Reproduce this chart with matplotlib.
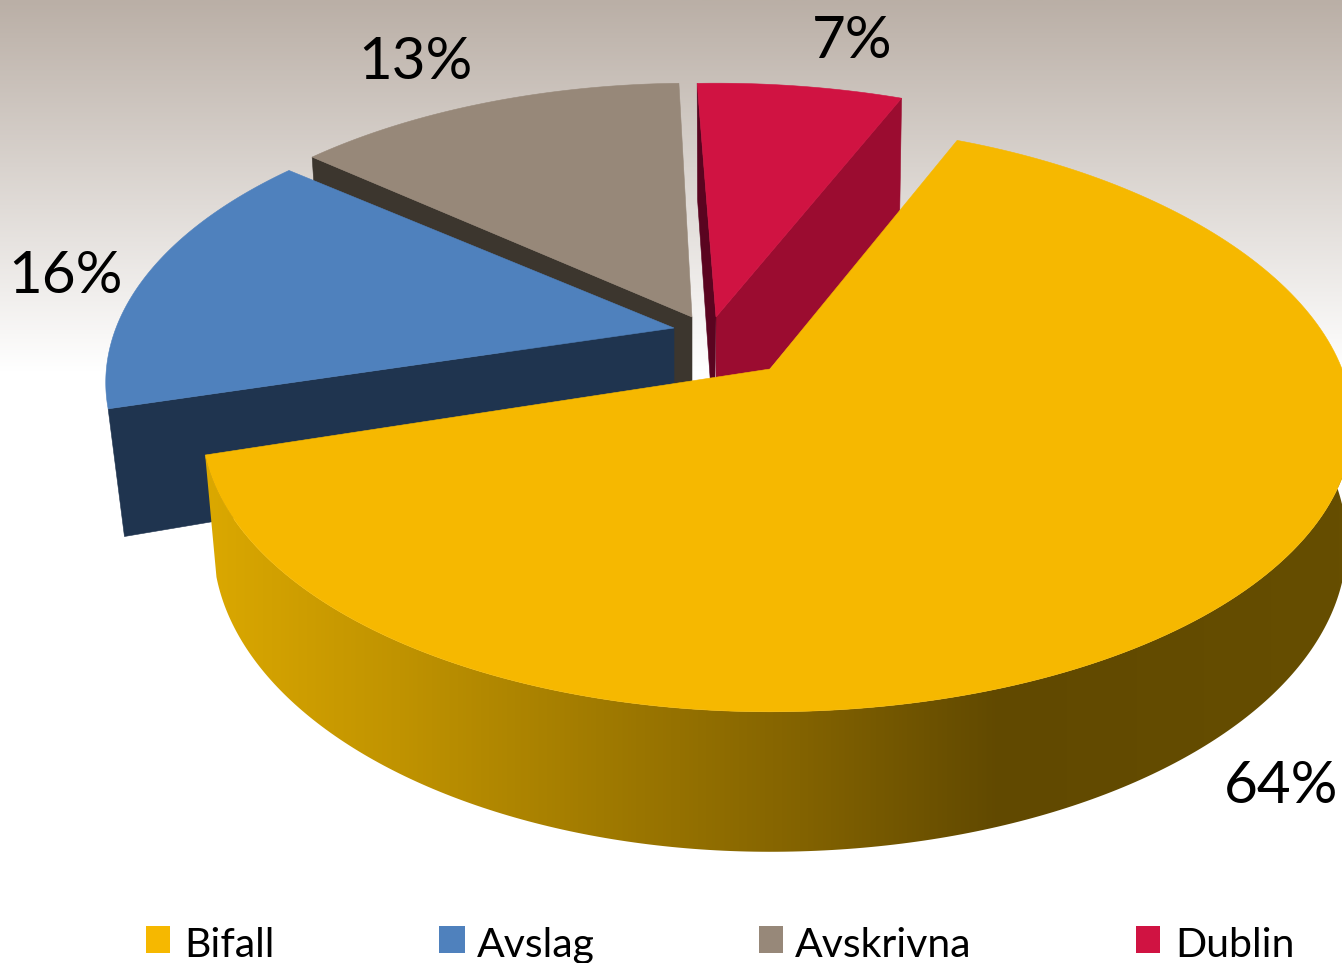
import numpy as np
import matplotlib
matplotlib.use("Agg")
import matplotlib.pyplot as plt
from matplotlib.colors import LinearSegmentedColormap
from matplotlib.patches import Polygon, Rectangle

# --- Data ---
categories = ["Bifall", "Avslag", "Avskrivna", "Dublin"]
shares = [64, 16, 13, 7]
pct_labels = ["64%", "16%", "13%", "7%"]

# --- Style / layout (pixels) ---
top_colors = ["#f6b800", "#4f81bd", "#978879", "#d01342"]
wall_colors = ["#664e00", "#1f344f", "#3c362e", "#9b0c30"]
apexes = [(770, 369), (674, 328), (692, 317), (716, 317)]
back_stretch = [0.05, 0, 0, 0]
# small angle corrections per slice (start, end), the original is drawn in perspective
slice_trim = [(0, 0), (1.0, -1.2), (-0.4, 1.0), (0.3, -0.2)]
label_pos = [(1281, 803), (66, 293), (415, 79), (852, 58)]
legend_box_x = [(146, 170), (439, 465), (759, 783), (1136, 1160)]
legend_text_x = [184, 477, 795, 1175]
first_angle = 22.6
font_name = "Lato"

W, H = 1342, 963
k = 0.189
ry = 278
rx_left, rx_right = 558, 572
depth = 116


# --- 3D look: project an angle on the disc to picture offsets ---
def top_offset(theta, stretch=0):
    t = np.radians(theta)
    u, v = np.sin(t), np.cos(t)
    w = 1 + k * v
    rx = np.where(u < 0, rx_left, rx_right)
    return rx * u / w, -ry * v / w * (1 + stretch * np.maximum(v, 0))


def top_edge(apex, theta, stretch=0):
    dx, dy = top_offset(theta, stretch)
    return apex[0] + dx, apex[1] + dy


def bottom_edge(apex, theta):
    dx, dy = top_offset(theta)
    sx = np.where(dx < 0, 0.98, 0.99)
    sy = np.where(dy > 0, 1.07, 1.0)
    return apex[0] + dx * sx, apex[1] + dy * sy + depth


def draw_top(ax, apex, a0, a1, color, z, stretch=0):
    th = np.linspace(a0, a1, 200)
    x, y = top_edge(apex, th, stretch)
    pts = np.column_stack([np.r_[apex[0], x], np.r_[apex[1], y]])
    ax.add_patch(Polygon(pts, closed=True, fc=color, ec=color, lw=0.4, zorder=z))


def draw_face(ax, apex, theta, color, z, apex_shift=0, outer_shift=(0, 0)):
    ox, oy = top_edge(apex, theta)
    bx, by = bottom_edge(apex, theta)
    pts = [(ox, oy), apex, (apex[0] + apex_shift, apex[1] + depth),
           (bx + outer_shift[0], by + outer_shift[1])]
    ax.add_patch(Polygon(pts, closed=True, fc=color, ec=color, lw=0.4, zorder=z))


fig = plt.figure(figsize=(W / 100, H / 100), dpi=100)
ax = fig.add_axes([0, 0, 1, 1])
ax.axis("off")

# background fade at the top of the picture
bg_cmap = LinearSegmentedColormap.from_list("bg", ["#baafa6", "#ffffff"])
ax.imshow(np.linspace(0, 1, 256).reshape(-1, 1), cmap=bg_cmap, aspect="auto",
          extent=(0, W, 372, 0), zorder=0)

# slice angles come from the shares, clockwise from the top
edges = first_angle + np.cumsum([0] + shares) * 3.6
a_bifall, a_avslag, a_avskr, a_dublin = [
    (edges[i] + slice_trim[i][0], edges[i + 1] + slice_trim[i][1]) for i in range(4)]

# Avskrivna, at the back
draw_face(ax, apexes[2], a_avskr[0], wall_colors[2], 2)
draw_top(ax, apexes[2], a_avskr[0], a_avskr[1], top_colors[2], 3)

# Avslag
draw_face(ax, apexes[1], a_avslag[0], wall_colors[1], 4, outer_shift=(5, 6))
draw_top(ax, apexes[1], a_avslag[0], a_avslag[1], top_colors[1], 5)

# Dublin, two cut faces are visible
draw_face(ax, apexes[3], a_dublin[1], wall_colors[3], 6)
draw_face(ax, apexes[3], a_dublin[0], "#5a0420", 6, apex_shift=-2)
draw_top(ax, apexes[3], a_dublin[0], a_dublin[1], top_colors[3], 7)

# Bifall rim with the shaded gradient
rim_th = np.linspace(a_bifall[1], 60, 300)
tx, ty = top_edge(apexes[0], rim_th)
bx, by = bottom_edge(apexes[0], rim_th)
rim = Polygon(np.column_stack([np.r_[tx, bx[::-1]], np.r_[ty, by[::-1]]]),
              closed=True, fc="none", ec="none", transform=ax.transData)
ax.add_patch(rim)
rim_cmap = LinearSegmentedColormap.from_list(
    "rim", [(0.0, "#dba800"), (0.17, "#c09300"), (0.35, "#a07a00"),
            (0.53, "#826200"), (0.70, "#614900"), (1.0, "#664e00")])
rim_img = ax.imshow(np.linspace(0, 1, 512).reshape(1, -1), cmap=rim_cmap, aspect="auto",
                    extent=(205, W, 900, 400), zorder=8)
rim_img.set_clip_path(rim)
draw_top(ax, apexes[0], a_bifall[0], a_bifall[1], top_colors[0], 9, stretch=back_stretch[0])

# percent labels
for txt, (x, y) in zip(pct_labels, label_pos):
    ax.text(x, y, txt, ha="center", va="baseline", fontsize=42, family=font_name, color="black", zorder=10)

# legend along the bottom, the text runs off the picture like in the original
for name, color, (x0, x1), tx0 in zip(categories, top_colors, legend_box_x, legend_text_x):
    ax.add_patch(Rectangle((x0, 926), x1 - x0, 27, fc=color, ec="none", zorder=10))
    ax.text(tx0, 957, name, ha="left", va="baseline", fontsize=29.5, family=font_name, color="black", zorder=10)

ax.set_xlim(0, W)
ax.set_ylim(H, 0)
fig.savefig("out.png", dpi=100)
